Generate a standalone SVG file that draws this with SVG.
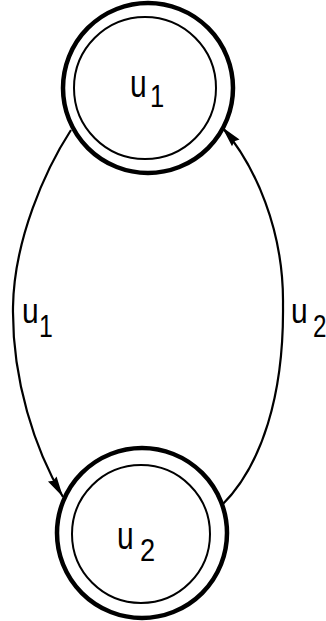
<svg xmlns="http://www.w3.org/2000/svg" width="326" height="621" viewBox="0 0 326 621">
<style>
.outer{fill:none;stroke:#000;stroke-width:4.5}
.inner{fill:none;stroke:#000;stroke-width:2}
.edge{fill:none;stroke:#000;stroke-width:2.2;marker-end:url(#arr)}
text{font-family:"Liberation Sans",Arial,sans-serif;fill:#000}
.u{font-size:30px}
.d{font-size:31px}
</style>
<defs>
<marker id="arr" markerUnits="userSpaceOnUse" markerWidth="24" markerHeight="12" viewBox="-22 -6 24 12" refX="0" refY="0" orient="auto">
<path d="M0,0 L-21,-5 L-19,0 L-21,5 Z" fill="#000"/>
</marker>
</defs>
<rect width="326" height="621" fill="#fff"/>
<g id="connectors">
<path class="edge" d="M71,130 C45,170 14,240 13,307 C12,380 35,450 63,497"/>
<path class="edge" d="M222,505 C262,465 284,395 283,305 C284,230 255,165 222,127"/>
<text class="u" transform="translate(22,323) scale(1,1.15)">u</text>
<text class="d" transform="translate(39,337) scale(0.8,1)">1</text>
<text class="u" transform="translate(291,323) scale(1,1.15)">u</text>
<text class="d" transform="translate(313,337) scale(0.78,1)">2</text>
</g>
<g id="node-u1">
<circle class="outer" cx="148" cy="88" r="85"/>
<circle class="inner" cx="145" cy="88" r="71"/>
<text class="u" transform="translate(130,97) scale(1,1.28)">u</text>
<text class="d" transform="translate(150,107) scale(0.8,1)" style="font-size:32px">1</text>
</g>
<g id="node-u2">
<circle class="outer" cx="142" cy="533" r="85"/>
<circle class="inner" cx="141" cy="534" r="69"/>
<text class="u" transform="translate(117,549) scale(1,1.28)">u</text>
<text class="d" transform="translate(140,561) scale(0.85,1)" style="font-size:32px">2</text>
</g>
</svg>
